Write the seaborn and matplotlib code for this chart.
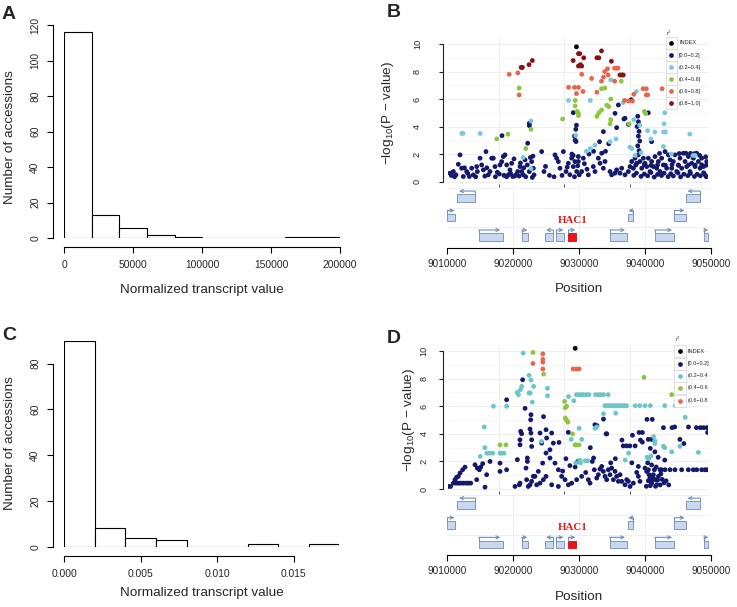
import numpy as np
import pandas as pd
import matplotlib
matplotlib.use("Agg")
import matplotlib.pyplot as plt
from matplotlib.patches import Rectangle
from matplotlib.lines import Line2D
import seaborn as sns

W, H = 737, 607

# ---------------- histogram data (bin edges + counts) ----------------
a_edges = [0, 20000, 40000, 60000, 80000, 100000, 120000, 140000, 160000, 180000, 200000]
a_counts = [116, 13, 6, 2, 1, 0, 0, 0, 1, 1]
a_xticks = [0, 50000, 100000, 150000, 200000]
a_xticklabels = ["0", "50000", "100000", "150000", "200000"]

c_edges = [0, 0.002, 0.004, 0.006, 0.008, 0.010, 0.012, 0.014, 0.016, 0.018]
c_counts = [90, 8, 4, 3, 0, 0, 1, 0, 1]
c_xticks = [0, 0.005, 0.010, 0.015]
c_xticklabels = ["0.000", "0.005", "0.010", "0.015"]

# ---------------- association scan, panel B (position kb, -log10 p) ----------------
b_index = [(9029.6, 9.8)]
b_r08 = [(9021.2, 8.3), (9021.4, 8.3), (9022.4, 8.5), (9022.9, 8.8), (9029.1, 8.8), (9029.9, 9.3),
         (9030.1, 9.3), (9029.9, 8.4), (9030.2, 8.5), (9030.4, 8.4), (9030.7, 9.0), (9032.7, 9.0),
         (9033.0, 9.0), (9033.4, 9.5), (9034.9, 8.75), (9036.2, 7.75), (9036.5, 7.75), (9036.7, 7.75)]
b_r06 = [(9019.4, 7.8), (9020.7, 7.9), (9020.9, 6.3), (9028.4, 6.85), (9029.3, 6.85), (9029.9, 6.85),
         (9029.6, 6.4), (9030.4, 7.8), (9030.6, 6.55), (9031.9, 7.5), (9032.7, 6.5), (9033.4, 7.3),
         (9033.7, 7.6), (9033.9, 8.0), (9034.3, 8.2), (9034.4, 7.75), (9035.4, 8.25), (9035.7, 8.25),
         (9035.9, 8.25), (9035.4, 7.3), (9036.9, 5.9), (9037.5, 5.85), (9038.1, 5.85), (9038.3, 6.35),
         (9039.7, 6.75), (9040.2, 6.75), (9040.2, 6.3), (9040.4, 6.3), (9042.6, 6.75)]
b_r04 = [(9017.5, 3.1), (9019.2, 3.45), (9020.9, 6.8), (9021.9, 2.4), (9022.7, 3.8), (9027.5, 4.55),
         (9029.4, 5.9), (9029.4, 5.5), (9029.7, 5.1), (9029.9, 4.8), (9029.9, 4.95), (9032.7, 4.75),
         (9033.0, 5.0), (9033.4, 5.2), (9033.4, 6.75), (9033.9, 6.8), (9034.2, 5.55), (9034.5, 5.45),
         (9034.8, 6.0), (9034.7, 4.2), (9034.8, 4.5), (9036.4, 7.3), (9037.6, 4.2), (9039.9, 5.1),
         (9040.1, 4.95)]
b_r02 = [(9012.2, 3.5), (9012.4, 3.5), (9015.0, 3.5), (9022.7, 4.4), (9022.7, 0.95), (9021.5, 1.75),
         (9028.4, 5.9), (9029.5, 3.35), (9031.7, 5.9), (9031.1, 2.2), (9031.7, 2.4), (9032.4, 2.65),
         (9034.7, 2.9), (9034.8, 7.4), (9035.6, 3.1), (9036.7, 5.75), (9037.7, 2.5), (9038.0, 2.4),
         (9038.3, 4.5), (9038.7, 6.55), (9039.2, 4.1), (9039.4, 2.1), (9040.4, 3.7), (9040.9, 3.1),
         (9041.5, 3.6), (9042.8, 2.55), (9043.0, 5.0), (9042.9, 4.2), (9042.8, 3.6), (9043.1, 3.6),
         (9046.8, 3.45), (9047.3, 1.9), (9047.6, 1.9), (9044.0, 2.0), (9038.5, 1.9)]
b_r00 = [(9010.41, 0.61), (9010.92, 0.73), (9011.32, 0.49), (9011.67, 1.26), (9011.93, 1.94), (9012.18, 0.97),
         (9012.43, 0.37), (9012.94, 0.73), (9013.34, 0.37), (9013.70, 0.97), (9013.95, 0.49), (9014.46, 1.09),
         (9014.56, 0.73), (9014.97, 1.70), (9015.21, 1.21), (9015.47, 0.85), (9015.87, 2.18), (9016.23, 0.49),
         (9016.48, 0.73), (9016.73, 1.70), (9016.98, 1.70), (9017.24, 1.09), (9017.59, 0.68), (9018.00, 1.21),
         (9018.25, 1.45), (9018.50, 1.82), (9018.75, 1.94), (9019.01, 1.21), (9019.26, 0.49), (9019.51, 0.85),
         (9019.77, 1.33), (9019.92, 0.37), (9020.12, 1.65), (9020.42, 0.49), (9020.68, 0.73), (9021.03, 1.09),
         (9021.28, 0.73), (9021.54, 0.49), (9021.79, 1.58), (9022.14, 1.21), (9022.45, 0.73), (9022.80, 1.45),
         (9023.05, 0.97), (9023.16, 0.49), (9024.32, 2.18), (9024.67, 0.73), (9026.34, 1.94), (9026.59, 1.70),
         (9026.85, 1.45), (9027.10, 0.97), (9027.61, 2.18), (9028.01, 0.73), (9028.36, 1.33), (9028.87, 1.70),
         (9029.12, 1.09), (9029.38, 1.45), (9029.63, 0.73), (9029.88, 1.82), (9030.03, 0.49),
         (9010.6, 0.45), (9011.1, 0.35), (9013.1, 0.60), (9015.7, 0.40), (9017.9, 0.55), (9018.6, 0.45),
         (9019.0, 0.35), (9019.6, 0.60), (9020.2, 0.40), (9020.9, 0.40), (9021.1, 1.35), (9021.6, 1.00),
         (9021.9, 0.35), (9022.6, 1.75), (9023.0, 1.85), (9022.9, 0.30), (9025.5, 0.45), (9026.2, 0.35),
         (9027.4, 0.45), (9028.2, 1.05), (9028.6, 0.50), (9029.3, 0.35), (9029.8, 1.15), (9029.1, 1.90),
         (9028.9, 2.00), (9012.6, 1.00), (9016.0, 1.00), (9017.3, 0.35), (9014.3, 0.35), (9024.9, 1.10),
         (9018.3, 3.34), (9022.45, 4.24), (9022.45, 4.07), (9022.2, 2.79), (9029.12, 5.01), (9029.53, 2.91),
         (9029.6, 4.1), (9029.5, 3.8), (9029.3, 3.3), (9029.4, 3.0),
         (9031.5, 2.0), (9032.2, 2.2), (9033.1, 2.9), (9034.0, 2.2), (9030.8, 1.3), (9031.2, 0.9),
         (9029.89, 1.46), (9030.39, 0.73), (9030.64, 1.70), (9031.40, 0.49), (9032.16, 1.09), (9032.41, 0.73),
         (9032.92, 1.70), (9033.17, 1.33), (9033.43, 2.06), (9033.68, 0.97), (9033.93, 1.46), (9034.69, 0.73),
         (9034.94, 0.49), (9035.45, 0.61), (9035.70, 0.85), (9036.21, 0.61), (9036.46, 0.97), (9036.97, 0.49),
         (9037.47, 0.73), (9037.73, 1.09), (9037.98, 1.46), (9038.23, 0.97), (9038.48, 1.70), (9038.74, 1.33),
         (9038.99, 1.94), (9039.24, 1.46), (9039.50, 0.97), (9039.75, 1.70), (9040.00, 1.33), (9040.26, 1.09),
         (9040.51, 1.70), (9040.76, 0.73), (9041.01, 1.46), (9041.27, 1.09), (9041.52, 1.82), (9041.77, 0.97),
         (9042.03, 1.46), (9042.28, 0.73), (9042.53, 1.70), (9042.78, 1.21), (9043.04, 2.18), (9043.29, 0.97),
         (9043.54, 1.94), (9043.80, 1.58), (9044.05, 0.97), (9044.30, 1.46), (9044.55, 1.94), (9044.81, 0.73),
         (9045.06, 1.21), (9045.31, 1.70), (9045.57, 0.97), (9045.82, 2.06), (9046.07, 1.46), (9046.32, 1.09),
         (9046.58, 1.82), (9046.83, 0.73), (9047.08, 1.33), (9047.34, 1.70), (9047.59, 1.09), (9047.84, 2.06),
         (9048.10, 1.46), (9048.35, 0.97), (9048.60, 1.70), (9048.85, 1.09), (9049.11, 0.49), (9049.36, 1.46),
         (9038.3, 0.45), (9038.7, 0.62), (9039.4, 0.38), (9039.9, 0.55), (9040.4, 0.42), (9040.9, 0.66),
         (9041.4, 0.33), (9041.9, 0.52), (9042.5, 0.44), (9042.9, 0.61), (9043.5, 0.36), (9043.9, 0.57),
         (9044.3, 0.41), (9045.0, 0.63), (9045.4, 0.34), (9045.9, 0.54), (9046.5, 0.43), (9046.9, 0.59),
         (9047.5, 0.37), (9047.9, 0.53), (9048.4, 0.42), (9048.9, 0.64), (9049.3, 0.35), (9038.6, 1.20),
         (9039.9, 1.22), (9040.9, 1.18), (9041.9, 1.21), (9043.1, 1.19), (9044.1, 1.23), (9045.1, 1.17),
         (9046.6, 1.21), (9047.6, 1.20), (9048.6, 1.22), (9049.3, 1.19), (9042.2, 2.05), (9045.2, 2.04),
         (9046.2, 2.06), (9046.9, 2.05), (9047.5, 2.03), (9048.3, 1.90), (9049.2, 1.80),
         (9038.9, 4.75), (9039.0, 4.35), (9038.8, 4.0), (9039.1, 3.65), (9039.0, 3.3), (9039.2, 2.95),
         (9038.9, 2.6), (9039.1, 2.25), (9035.45, 4.96), (9035.96, 5.57), (9036.97, 4.6), (9036.8, 4.55),
         (9035.7, 3.92), (9033.68, 3.63), (9041.0, 2.9), (9037.5, 4.16), (9040.5, 5.0), (9037.9, 5.95),
         (9034.5, 2.75)]

# ---------------- association scan, panel D ----------------
d_index = [(9029.4, 10.2)]
d_r06 = [(9023.0, 9.1), (9024.5, 9.8), (9024.5, 9.4), (9024.5, 9.2), (9024.5, 8.7),
         (9029.1, 8.7), (9029.6, 8.7), (9030.0, 8.7)]
d_r04 = [(9023.0, 9.9), (9024.6, 8.33), (9027.8, 6.35), (9027.9, 5.9), (9028.1, 6.0), (9027.9, 5.15),
         (9028.1, 5.0), (9028.3, 4.85), (9018.0, 3.2), (9018.9, 3.2), (9029.0, 4.0), (9029.4, 3.2),
         (9029.6, 3.2), (9030.0, 3.2), (9039.85, 8.1), (9044.05, 6.84)]
d_r02 = [(9021.5, 9.85), (9022.4, 8.24), (9022.7, 7.9), (9021.3, 7.44), (9021.1, 7.2), (9020.6, 7.0),
         (9020.8, 6.84), (9022.4, 6.96), (9022.6, 6.96), (9023.1, 7.44), (9025.2, 7.3), (9025.2, 6.76),
         (9017.0, 6.0), (9019.0, 6.0), (9015.6, 4.5), (9015.7, 3.0), (9015.0, 2.37), (9016.0, 2.6),
         (9016.4, 2.6), (9016.9, 2.6), (9018.0, 2.6), (9018.2, 2.6), (9018.6, 2.6), (9028.4, 6.7),
         (9024.3, 3.45), (9028.8, 3.6), (9030.0, 4.4), (9022.9, 6.3), (9029.2, 6.4),
         (9029.6, 6.84), (9030.0, 6.84), (9030.4, 6.84), (9030.7, 6.84), (9031.1, 6.84), (9031.5, 6.84),
         (9032.5, 6.84), (9032.9, 6.84), (9033.3, 6.84), (9033.7, 6.84), (9034.4, 6.84),
         (9033.9, 6.04), (9034.2, 6.04), (9034.5, 6.04), (9034.8, 6.04), (9035.1, 6.04), (9035.4, 6.04),
         (9035.7, 6.04), (9036.0, 6.04), (9036.3, 6.04), (9036.6, 6.04), (9036.9, 6.04), (9037.2, 6.04),
         (9038.5, 6.04), (9039.2, 6.04), (9040.0, 6.04), (9040.8, 6.04), (9043.0, 6.04), (9044.6, 6.04),
         (9045.5, 6.04), (9033.7, 5.46), (9035.55, 5.5), (9032.4, 4.4), (9032.7, 4.5), (9030.4, 3.6),
         (9030.1, 2.1), (9037.5, 2.6), (9040.3, 2.3), (9040.6, 2.2), (9040.9, 2.4), (9042.8, 3.1),
         (9043.0, 3.0), (9044.05, 2.7), (9041.3, 3.8), (9045.3, 3.1), (9048.1, 2.66), (9046.1, 5.2),
         (9037.0, 2.1), (9041.5, 3.5), (9041.5, 3.3), (9029.5, 1.9), (9030.2, 1.9), (9030.9, 2.05),
         (9031.3, 2.05)]
d_r00 = [(9010.16, 0.19), (9010.51, 0.19), (9010.92, 0.43), (9011.32, 0.43), (9011.67, 0.43), (9012.03, 0.43),
         (9012.43, 0.43), (9012.84, 0.43), (9013.19, 0.43), (9013.55, 0.43), (9011.17, 0.68), (9011.42, 0.85),
         (9011.67, 0.92), (9011.93, 1.16), (9012.33, 1.40), (9012.69, 1.59), (9014.20, 1.76), (9014.56, 1.52),
         (9014.87, 1.40), (9015.07, 1.59), (9015.37, 1.84), (9014.46, 0.68), (9015.97, 1.04), (9015.72, 0.14),
         (9016.48, 2.00), (9018.0, 1.88), (9018.0, 1.28), (9019.0, 1.40), (9019.0, 6.47), (9020.27, 0.19),
         (9020.93, 0.31), (9020.63, 2.13), (9021.43, 7.92), (9021.13, 4.18), (9021.28, 4.01), (9021.03, 3.57),
         (9021.03, 3.21), (9021.8, 5.85), (9022.70, 5.39), (9022.65, 5.02), (9022.55, 4.35), (9022.70, 4.06),
         (9022.80, 3.57), (9022.80, 3.09), (9022.15, 2.25), (9022.15, 2.00), (9021.94, 1.52), (9024.07, 4.06),
         (9024.32, 3.33), (9024.98, 4.30), (9025.07, 3.70), (9025.84, 4.06), (9026.09, 3.33), (9025.58, 2.85),
         (9024.98, 2.61), (9025.58, 2.25), (9026.34, 1.88), (9026.85, 1.40), (9026.95, 3.38), (9028.36, 4.11),
         (9024.47, 1.88), (9023.81, 1.28), (9023.30, 0.92), (9024.98, 0.92), (9024.6, 5.25), (9021.03, 0.43),
         (9022.04, 0.68), (9022.29, 0.19), (9022.55, 0.31), (9022.80, 0.56), (9023.05, 0.92), (9023.56, 0.31),
         (9024.07, 0.43), (9024.57, 0.68), (9025.84, 0.31), (9026.85, 0.19), (9027.35, 0.92), (9027.86, 0.68),
         (9028.36, 0.31), (9028.87, 0.43), (9029.63, 0.68), (9028.0, 2.2), (9029.4, 1.6), (9029.8, 2.0),
         (9027.5, 1.3), (9028.6, 1.7),
         (9030.39, 0.92), (9031.40, 0.68), (9031.66, 0.43), (9032.31, 1.40), (9032.67, 0.80), (9032.92, 1.04),
         (9033.17, 1.45), (9033.43, 1.64), (9033.68, 1.28), (9033.93, 0.92), (9034.19, 0.68), (9034.44, 1.40),
         (9034.69, 1.04), (9034.94, 1.52), (9035.20, 0.68), (9035.45, 1.28), (9035.70, 0.92), (9035.96, 0.56),
         (9036.21, 1.04), (9036.46, 0.56), (9036.97, 0.31), (9037.22, 0.68), (9037.47, 0.56), (9037.73, 0.19),
         (9038.23, 0.43), (9038.74, 1.21), (9038.99, 1.64), (9038.99, 0.92), (9039.24, 0.56), (9040.00, 1.52),
         (9040.26, 1.28), (9040.51, 1.40), (9040.61, 1.04), (9040.76, 0.80), (9040.91, 0.56), (9041.01, 0.43),
         (9041.11, 0.92), (9041.27, 1.04), (9041.42, 1.40), (9041.52, 0.68), (9041.77, 0.31), (9042.03, 0.92),
         (9042.28, 1.40), (9042.53, 1.40), (9043.04, 1.40), (9043.80, 1.40), (9044.55, 1.40), (9045.56, 1.40),
         (9046.58, 1.40), (9047.34, 1.40), (9047.84, 1.40), (9048.60, 1.40), (9049.10, 1.40), (9049.43, 1.40),
         (9040.2, 0.2), (9040.5, 0.6), (9040.8, 0.25), (9041.3, 0.75), (9041.6, 0.2), (9041.9, 0.65),
         (9042.3, 0.3), (9042.6, 0.7), (9042.9, 0.45), (9040.4, 1.9), (9041.0, 1.75), (9041.7, 1.6),
         (9042.4, 1.1), (9043.2, 0.6), (9043.6, 0.3),
         (9040.3, 5.05), (9041.1, 5.05), (9038.1, 3.9), (9038.5, 3.13), (9037.7, 3.13), (9036.7, 3.13),
         (9037.2, 3.13), (9036.5, 3.55), (9032.7, 4.6), (9034.1, 4.0), (9033.7, 5.07), (9031.7, 3.0),
         (9039.3, 3.55), (9039.6, 3.4), (9040.8, 2.95), (9042.8, 4.45), (9044.1, 4.45), (9044.5, 4.5),
         (9046.6, 4.5), (9047.8, 4.45), (9048.4, 4.45), (9048.9, 4.45), (9049.4, 4.45), (9049.5, 4.1),
         (9045.3, 3.6), (9045.9, 3.3), (9039.1, 4.1), (9039.6, 4.1), (9040.5, 3.6), (9041.0, 3.6),
         (9041.5, 2.7), (9042.0, 2.3), (9043.0, 2.1), (9038.0, 1.9), (9034.8, 1.9), (9035.5, 2.2),
         (9032.0, 2.0), (9031.0, 1.2), (9032.4, 4.66), (9034.2, 4.0), (9032.2, 2.25)]

r2_labels_b = ["INDEX", "[0.0\u22120.2]", "(0.2\u22120.4]", "(0.4\u22120.6]", "(0.6\u22120.8]", "(0.8\u22121.0]"]
r2_labels_d = ["INDEX", "[0.0\u22120.2]", "(0.2\u22120.4", "(0.4\u22120.6", "(0.6\u22120.8"]
r2_colors_b = ["#000000", "#14196b", "#7cc8dc", "#8cc63e", "#e8674c", "#861414"]
r2_colors_d = ["#000000", "#14196b", "#6cc6c8", "#8cc63e", "#e8674c"]

# ---------------- gene models (kb) ----------------
gene_start = [9011.52, 9046.22, 9010.00, 9037.37, 9044.40, 9014.76, 9021.29, 9024.87, 9026.54, 9028.36, 9034.64, 9041.47, 9048.91]
gene_end = [9014.20, 9048.35, 9011.21, 9038.22, 9046.17, 9018.40, 9022.25, 9025.99, 9027.75, 9029.53, 9037.22, 9044.40, 9049.50]
gene_row = [3, 3, 2, 2, 2, 1, 1, 1, 1, 1, 1, 1, 1]
gene_strand = ["-", "-", "+", "-", "+", "+", "+", "-", "+", "+", "+", "+", "+"]
hac1_gene = 9
pos_ticks = [9010000, 9020000, 9030000, 9040000, 9050000]

sns.set_theme(style="white")
plt.rcParams["font.family"] = ["Liberation Sans", "DejaVu Sans"]
plt.rcParams["mathtext.default"] = "regular"

fig = plt.figure(figsize=(W / 100, H / 100), dpi=100)
fig.patch.set_facecolor("white")


def add_ax(l, t, r, b):
    return fig.add_axes([l / W, 1 - b / H, (r - l) / W, (b - t) / H])


def ftext(x, y, s, **kw):
    return fig.text(x / W, 1 - y / H, s, **kw)


def hist_panel(box, edges, counts, ymax, yticks, xticks, xticklabels):
    ax = add_ax(*box)
    centers = [(lo + hi) / 2 for lo, hi in zip(edges[:-1], edges[1:])]
    hist_df = pd.DataFrame({"value": centers, "count": counts})
    sns.histplot(data=hist_df, x="value", weights="count", bins=list(edges), ax=ax, color="white",
                 edgecolor="black", linewidth=0.8, alpha=1)
    ax.set_xlim(edges[0], edges[-1])
    ax.set_ylim(0, ymax)
    ax.set_xticks(xticks)
    ax.set_xticklabels(xticklabels)
    ax.set_yticks(yticks)
    ax.set_xlabel("")
    ax.set_ylabel("")
    sns.despine(ax=ax, offset={"left": 7.8, "bottom": 6.4}, trim=True)
    for sp in ["left", "bottom"]:
        ax.spines[sp].set_color("black")
        ax.spines[sp].set_linewidth(0.8)
    ax.tick_params(axis="both", direction="out", length=4.5, width=0.8, color="black",
                   labelsize=7.4, pad=5, bottom=True, left=True)
    for lab in ax.get_yticklabels():
        lab.set_rotation(90)
        lab.set_va("center")
    return ax


# ---- panel A / C ----
hist_panel((64.3, 25, 340, 238.3), a_edges, a_counts, 120, range(0, 121, 20), a_xticks, a_xticklabels)
ftext(10, 137, "Number of accessions", rotation=90, ha="center", va="center", fontsize=9.7)
ftext(202, 290, "Normalized transcript value", ha="center", va="center", fontsize=9.7)

hist_panel((64.3, 340.7, 339.4, 546.7), c_edges, c_counts, 90, range(0, 81, 20), c_xticks, c_xticklabels)
ftext(10, 443, "Number of accessions", rotation=90, ha="center", va="center", fontsize=9.7)
ftext(202, 593, "Normalized transcript value", ha="center", va="center", fontsize=9.7)


def to_frame(groups, labels):
    rows = []
    for pts, lab in zip(groups, labels):
        for x, y in pts:
            rows.append({"pos": x * 1000, "logp": y, "r2": lab})
    return pd.DataFrame(rows)


def scatter_panel(box, df, labels, colors, ypad):
    ax = add_ax(*box)
    # draw low-LD points first, index SNP last
    draw_order = labels[1:] + labels[:1]
    df = df.copy()
    df["order"] = df["r2"].map({lab: i for i, lab in enumerate(draw_order)})
    df = df.sort_values("order", kind="stable")
    sns.scatterplot(data=df, x="pos", y="logp", hue="r2", hue_order=labels,
                    palette=dict(zip(labels, colors)), s=12, linewidth=0, legend=False, ax=ax)
    ax.set_xlim(9010060, 9049560)
    ax.set_ylim(-0.14, 10.44)
    ax.set_yticks(range(0, 11, 2))
    ax.set_yticks(range(1, 11, 2), minor=True)
    ax.set_xticks([9017890, 9027750, 9037720])
    ax.set_xticklabels([])
    ax.set_xlabel("")
    ax.set_ylabel("")
    ax.set_axisbelow(True)
    ax.grid(True, which="major", color="#ebebeb", linewidth=0.6)
    ax.grid(True, which="minor", axis="y", color="#f4f4f4", linewidth=0.5)
    for sp in ["top", "right", "bottom"]:
        ax.spines[sp].set_visible(False)
    ax.spines["left"].set_position(("outward", 3.6))
    ax.spines["left"].set_bounds(0, 10)
    ax.spines["left"].set_color("#222222")
    ax.spines["left"].set_linewidth(0.8)
    ax.tick_params(axis="y", which="major", direction="out", length=3, width=0.8, color="#222222",
                   labelsize=6.6, pad=ypad, left=True)
    ax.tick_params(axis="y", which="minor", length=0)
    ax.tick_params(axis="x", direction="out", length=2, width=0.7, color="#555555", bottom=True)
    for lab in ax.get_yticklabels():
        lab.set_rotation(90)
        lab.set_va("center")
    return ax


def gene_panel(box):
    ax = add_ax(*box)
    ax.set_xlim(9010000, 9050000)
    ax.set_ylim(0.46, 3.62)
    ax.set_facecolor("none")
    for r in [1.5, 2.5, 3.5]:
        ax.axhline(r, color="#eeeeee", lw=0.6, zorder=0)
    for x in pos_ticks[1:4]:
        ax.axvline(x, color="#eeeeee", lw=0.6, zorder=0)
    arrow_c = "#6f8fbe"
    for i, (s, e, r, st) in enumerate(zip(gene_start, gene_end, gene_row, gene_strand)):
        s, e = s * 1000, e * 1000
        red = i == hac1_gene
        ax.add_patch(Rectangle((s, r - 0.19), e - s, 0.38, facecolor="#e8141c" if red else "#c9d8ee",
                               edgecolor="#e8141c" if red else "#7c98c4", lw=0.7, zorder=2))
        length = max(0.9 * (e - s), 700)
        tss = s if st == "+" else e
        tip = tss + length if st == "+" else tss - length
        ya = r + 0.36
        ax.plot([tss, tss], [r + 0.19, ya], color=arrow_c, lw=0.8, zorder=3)
        ax.annotate("", xy=(tip, ya), xytext=(tss, ya),
                    arrowprops=dict(arrowstyle="->", color=arrow_c, lw=0.8, shrinkA=0, shrinkB=0,
                                    mutation_scale=5.5))
        if red:
            ax.text((s + e) / 2, r + 0.84, "HAC1", color="#e8141c", ha="center", va="center",
                    fontsize=7.8, fontweight="bold", family=["Liberation Serif", "DejaVu Serif"])
    for sp in ["top", "right", "left"]:
        ax.spines[sp].set_visible(False)
    ax.spines["bottom"].set_color("black")
    ax.spines["bottom"].set_linewidth(0.8)
    ax.set_xticks(pos_ticks)
    ax.set_xticklabels([str(t) for t in pos_ticks])
    ax.set_yticks([])
    ax.tick_params(axis="x", direction="out", length=4, width=0.8, color="black", labelsize=7.2,
                   pad=4, bottom=True)
    return ax


def draw_legend(x0, ys, labels, colors, title_y):
    ftext(x0 + 1, title_y, "r$^2$", fontsize=4, ha="left", va="center")
    for y, lab, col in zip(ys, labels, colors):
        fig.add_artist(Rectangle((x0 / W, 1 - (y + 6) / H), 11.5 / W, 12 / H, transform=fig.transFigure,
                                 facecolor="white", edgecolor="#d4d4d4", lw=0.5))
        fig.add_artist(Line2D([(x0 + 5.75) / W], [1 - y / H], marker="o", ms=2.4, color=col, lw=0,
                              transform=fig.transFigure))
        ftext(x0 + 13.5, y, lab, fontsize=4, ha="left", va="center")


# ---- panel B ----
df_b = to_frame([b_index, b_r00, b_r02, b_r04, b_r06, b_r08], r2_labels_b)
scatter_panel((447.7, 38, 708, 183.5), df_b, r2_labels_b, r2_colors_b, ypad=12)
gene_panel((447.3, 186, 711, 247.5))
ftext(388, 113, "\u2212log$_{10}$(P \u2212 value)", rotation=90, ha="center", va="center", fontsize=9.7)
ftext(579, 289, "Position", ha="center", va="center", fontsize=9.7)
draw_legend(665.5, [43, 55, 67, 79, 91, 103], r2_labels_b, r2_colors_b, 33)

# ---- panel D ----
df_d = to_frame([d_index, d_r00, d_r02, d_r04, d_r06], r2_labels_d)
scatter_panel((447.7, 345, 708, 491), df_d, r2_labels_d, r2_colors_d, ypad=7)
gene_panel((447.3, 493, 711, 555))
ftext(409, 420, "\u2212log$_{10}$(P \u2212 value)", rotation=90, ha="center", va="center", fontsize=9.7)
ftext(579, 597, "Position", ha="center", va="center", fontsize=9.7)
draw_legend(674, [351.3, 363.5, 375.7, 388, 400.5], r2_labels_d, r2_colors_d, 339)

# ---- panel letters ----
for letter, (x, y) in zip("ABCD", [(2, 6), (387, 4), (2, 327), (387, 330)]):
    ftext(x, y, letter, fontsize=14, fontweight="bold", ha="left", va="top")

fig.savefig("out.png", dpi=100, facecolor="white")
